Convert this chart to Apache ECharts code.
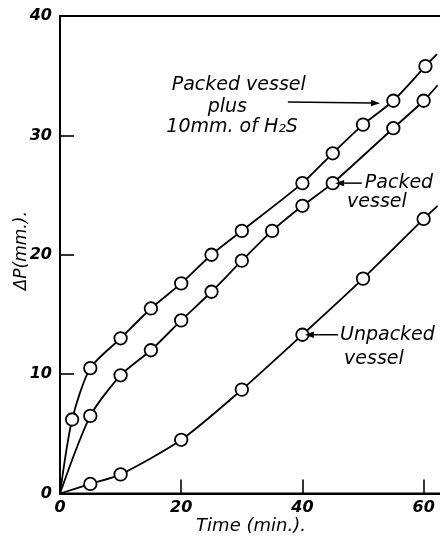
<!DOCTYPE html>
<html>
<head>
<meta charset="utf-8">
<script src="https://cdn.jsdelivr.net/npm/echarts@6/dist/echarts.min.js"></script>
<style>
html,body{margin:0;padding:0;background:#fff;}
#c{width:440px;height:539px;}
</style>
</head>
<body>
<div id="c"></div>
<script>
// Time (min.) values and ΔP (mm.) readings
var h2sTime    = [0, 2, 5, 10, 15, 20, 25, 30, 40, 45, 50, 55, 60.3, 62.2];
var h2sDP      = [0, 6.2, 10.5, 13.0, 15.5, 17.6, 20.0, 22.0, 26.0, 28.5, 30.9, 32.9, 35.8, 36.8];
var packedTime = [0, 5, 10, 15, 20, 25, 30, 35, 40, 45, 55, 60, 62.3];
var packedDP   = [0, 6.5, 9.9, 12.0, 14.5, 16.9, 19.5, 22.0, 24.1, 26.0, 30.6, 32.9, 34.2];
var unpTime    = [0, 5, 10, 20, 30, 40, 50, 60, 62.3];
var unpDP      = [0, 0.8, 1.6, 4.5, 8.7, 13.3, 18.0, 23.0, 24.1];
// first and last points of each list are curve ends (no circle drawn)
var xTicks = [0, 20, 40, 60];
var yTicks = [0, 10, 20, 30, 40];

var FONT = 'DejaVu Sans';

function build(t, v) {
  return t.map(function (x, i) {
    var item = { value: [x, v[i]] };
    if (i === 0 || i === t.length - 1) item.symbol = 'none';
    return item;
  });
}

function lineSeries(name, t, v) {
  return {
    name: name,
    type: 'line',
    data: build(t, v),
    smooth: 0.25,
    symbol: 'circle',
    symbolSize: 12.5,
    showSymbol: true,
    lineStyle: { color: '#000', width: 1.8 },
    itemStyle: { color: '#fff', borderColor: '#000', borderWidth: 1.8 },
    emphasis: { disabled: true },
    z: 3
  };
}

var chart = echarts.init(document.getElementById('c'), null, { renderer: 'canvas' });

chart.setOption({
  animation: false,
  backgroundColor: '#fff',
  grid: {
    left: 60, right: -20, top: 16, bottom: 45.5,
    containLabel: false,
    outerBoundsMode: 'none',
    show: true, borderColor: '#000', borderWidth: 2, backgroundColor: 'transparent'
  },
  xAxis: {
    type: 'value',
    min: 0, max: 66, interval: 20,
    name: 'Time (min.).',
    nameLocation: 'middle',
    nameGap: 24,
    nameMoveOverlap: false,
    nameTextStyle: { fontFamily: FONT, fontStyle: 'italic', fontSize: 18, color: '#000', padding: [0, 18, 0, 0] },
    axisLine: { lineStyle: { color: '#000', width: 2 } },
    axisTick: { inside: true, length: 14, lineStyle: { color: '#000', width: 1.6 } },
    axisLabel: {
      fontFamily: FONT, fontStyle: 'italic', fontWeight: 'bold', fontSize: 16, color: '#000', margin: 6,
      showMaxLabel: false,
      formatter: function (v) { return xTicks.indexOf(v) >= 0 ? String(v) : ''; }
    },
    splitLine: { show: false }
  },
  yAxis: {
    type: 'value',
    min: 0, max: 40, interval: 10,
    name: 'ΔP(mm.).',
    nameLocation: 'middle',
    nameRotate: 90,
    nameGap: 30,
    nameMoveOverlap: false,
    nameTextStyle: { fontFamily: FONT, fontStyle: 'italic', fontSize: 17, color: '#000', padding: [0, 0, 0, 8] },
    axisLine: { lineStyle: { color: '#000', width: 2 } },
    axisTick: { inside: true, length: 14, lineStyle: { color: '#000', width: 1.6 } },
    axisLabel: {
      fontFamily: FONT, fontStyle: 'italic', fontWeight: 'bold', fontSize: 16, color: '#000', margin: 8,
      formatter: function (v) { return yTicks.indexOf(v) >= 0 ? String(v) : ''; }
    },
    splitLine: { show: false }
  },
  series: [
    lineSeries('Packed vessel plus 10mm. of H2S', h2sTime, h2sDP),
    lineSeries('Packed vessel', packedTime, packedDP),
    lineSeries('Unpacked vessel', unpTime, unpDP)
  ]
});

// Annotations (positions given in data coordinates)
function P(x, y) { return chart.convertToPixel({ gridIndex: 0 }, [x, y]); }
var txtStyle = { fontFamily: FONT, fontStyle: 'italic', fontSize: 19, fill: '#000' };
function text(str, x, y, align) {
  var p = P(x, y);
  return {
    type: 'text', x: p[0], y: p[1], z: 10,
    style: Object.assign({}, txtStyle, { text: str, align: align || 'center', verticalAlign: 'middle' })
  };
}
function arrow(x1, y1, x2, y2) {
  var a = P(x1, y1), b = P(x2, y2);
  var dx = b[0] - a[0], dy = b[1] - a[1];
  var L = Math.sqrt(dx * dx + dy * dy), ux = dx / L, uy = dy / L;
  var hl = 9, hw = 3.2;
  var base = [b[0] - ux * hl, b[1] - uy * hl];
  return [
    { type: 'line', z: 10, shape: { x1: a[0], y1: a[1], x2: base[0], y2: base[1] }, style: { stroke: '#000', lineWidth: 1.5 } },
    { type: 'polygon', z: 10, shape: { points: [b, [base[0] - uy * hw, base[1] + ux * hw], [base[0] + uy * hw, base[1] - ux * hw]] }, style: { fill: '#000' } }
  ];
}

var g = [];
g.push(text('Packed vessel', 29.5, 34.2));
g.push(text('plus', 27.6, 32.4));
g.push(text('10mm. of H\u2082S', 28.4, 30.7));
g = g.concat(arrow(37.6, 32.8, 52.8, 32.7));
g = g.concat(arrow(49.8, 26.0, 45.4, 26.0));
g.push(text('Packed', 50.3, 26.0, 'left'));
g.push(text('vessel', 52.3, 24.4));
g = g.concat(arrow(45.9, 13.3, 40.4, 13.3));
g.push(text('Unpacked', 46.2, 13.3, 'left'));
g.push(text('vessel', 51.8, 11.3));
chart.setOption({ graphic: { elements: g } });
</script>
</body>
</html>
